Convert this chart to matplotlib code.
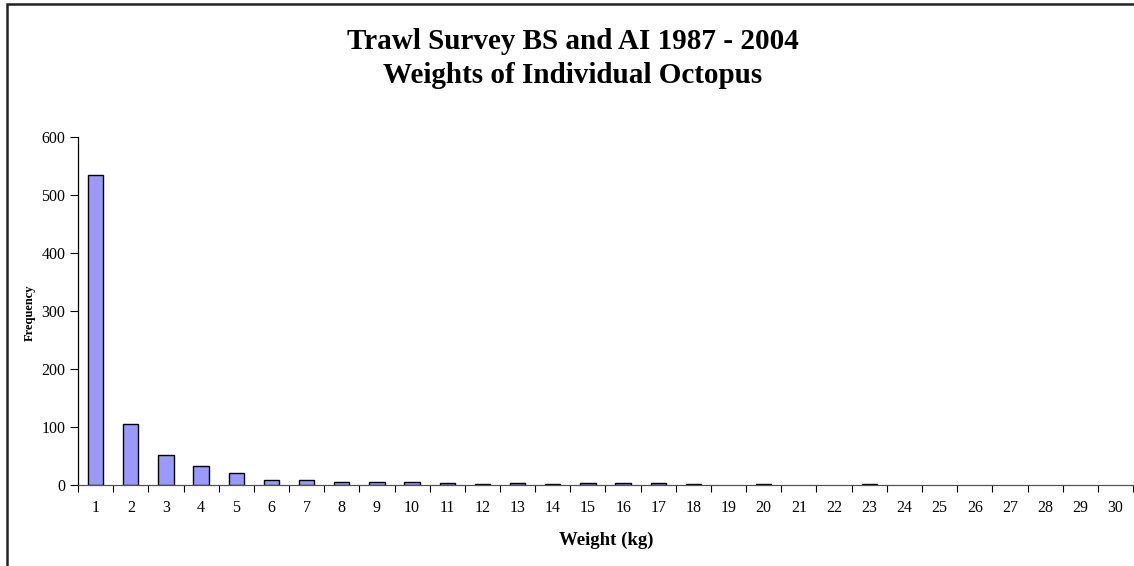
import matplotlib
matplotlib.use("Agg")
import matplotlib.pyplot as plt
from matplotlib.patches import Rectangle

plt.rcParams['font.family'] = ['Liberation Serif', 'DejaVu Serif']

# peso en kg (categorias) y frecuencia observada
weights = list(range(1, 31))
frequency = [534, 105, 51, 32, 21, 9, 9, 6, 6, 6, 4, 2, 4, 2, 4, 4, 4, 2, 0, 2,
             0, 0, 2, 0, 0, 0, 0, 0, 0, 0]
title_lines = ["Trawl Survey BS and AI 1987 - 2004", "Weights of Individual Octopus"]

fig = plt.figure(figsize=(11.34, 5.66), dpi=100)
ax = fig.add_axes([78 / 1134, 1 - 485 / 566, (1133 - 78) / 1134, (485 - 137) / 566])

# las barras con valor 0 no se dibujan (como en Excel)
x_nz = [w for w, f in zip(weights, frequency) if f > 0]
f_nz = [f for f in frequency if f > 0]
ax.bar(x_nz, f_nz, width=0.44, color='#9999FF', edgecolor='black', linewidth=1.0)

ax.set_xlim(0.5, 30.5)
ax.set_ylim(0, 600)
ax.set_yticks(range(0, 601, 100))
ax.set_xticks(weights)
ax.set_xticklabels([str(w) for w in weights], fontsize=11.5)
ax.tick_params(axis='x', length=0, pad=11)
ax.set_xticks([w + 0.5 for w in [0] + weights], minor=True)
ax.tick_params(axis='x', which='minor', length=5, direction='out', width=0.8)
ax.tick_params(axis='y', length=6, direction='out', width=0.8, labelsize=11.5, pad=3)

ax.spines['top'].set_visible(False)
ax.spines['right'].set_visible(False)
ax.spines['left'].set_linewidth(0.9)
ax.spines['bottom'].set_linewidth(0.9)
ax.spines['bottom'].set_color('#555555')

fig.text(606 / 1134, 1 - 540 / 566, 'Weight (kg)', fontsize=13.5, fontweight='bold',
         ha='center', va='center')
fig.text(30 / 1134, 1 - 313 / 566, 'Frequency', rotation=90, fontsize=9,
         fontweight='bold', ha='center', va='center')

fig.text(573 / 1134, 1 - 49 / 566, title_lines[0], fontsize=21, fontweight='bold',
         ha='center', va='baseline')
fig.text(573 / 1134, 1 - 83 / 566, title_lines[1], fontsize=21, fontweight='bold',
         ha='center', va='baseline')

# marco del area del grafico (cortado a la derecha y abajo)
fig.patches.append(Rectangle((7 / 1134, -0.05), 1.2, 1 - 4 / 566 + 0.05,
                             transform=fig.transFigure, fill=False,
                             edgecolor='#222222', linewidth=1.8))

fig.savefig('out.png', dpi=100)
